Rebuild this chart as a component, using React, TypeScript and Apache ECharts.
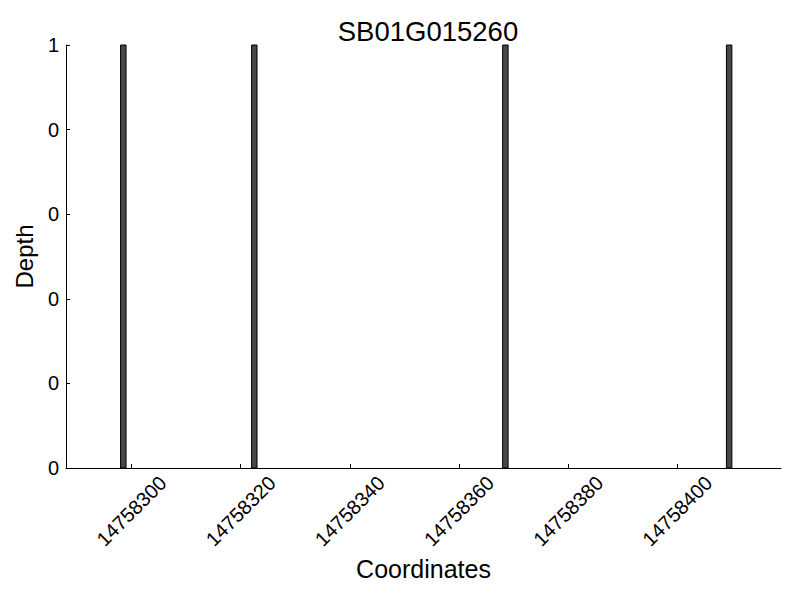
import React, { useEffect, useRef } from "react";
import * as echarts from "echarts";

const titleText = "SB01G015260";
const xName = "Coordinates";
const yName = "Depth";
const positions = [14758298, 14758322, 14758368, 14758409];
const depths = [1, 1, 1, 1];
const xTicks = [14758300, 14758320, 14758340, 14758360, 14758380, 14758400];
const xMin = 14758288;
const xMax = 14758419;
const barSpan = 1;

const FONT = "Liberation Sans, Arial, sans-serif";

export default function App() {
  const ref = useRef<HTMLDivElement>(null);
  useEffect(() => {
    if (!ref.current) return;
    const chart = echarts.init(ref.current, null, { renderer: "svg" });
    const data = positions.map((p, i) => [p, depths[i]]);
    chart.setOption({
      animation: false,
      backgroundColor: "#ffffff",
      textStyle: { fontFamily: FONT },
      title: {
        text: titleText,
        left: 423,
        textAlign: "center",
        top: 12,
        textStyle: { fontSize: 27.5, fontWeight: "normal", color: "#000", fontFamily: FONT },
      },
      grid: { left: 66, right: 19, top: 45, bottom: 132, containLabel: false },
      xAxis: {
        type: "value",
        min: xMin,
        max: xMax,
        name: xName,
        nameLocation: "middle",
        nameGap: 86,
        nameTextStyle: { fontSize: 25, color: "#000", fontFamily: FONT },
        splitLine: { show: false },
        axisLine: { show: true, onZero: false, lineStyle: { color: "#000", width: 1 } },
        axisTick: { show: true, inside: true, length: 4, customValues: xTicks, lineStyle: { color: "#000" } },
        axisLabel: {
          customValues: xTicks,
          rotate: 45,
          align: "center",
          verticalAlign: "middle",
          fontSize: 20,
          color: "#000",
          margin: 43,
          fontFamily: FONT,
          formatter: (v: number) => String(Math.round(v)),
        },
      },
      yAxis: {
        type: "value",
        min: 0,
        max: 1,
        interval: 0.2,
        name: yName,
        nameLocation: "middle",
        nameGap: 30,
        nameTextStyle: { fontSize: 24, color: "#000", fontFamily: FONT },
        splitLine: { show: false },
        axisLine: { show: true, lineStyle: { color: "#000", width: 1 } },
        axisTick: { show: true, inside: true, length: 4, lineStyle: { color: "#000" } },
        axisLabel: {
          fontSize: 20,
          color: "#000",
          margin: 7,
          fontFamily: FONT,
          formatter: (v: number) => String(Math.floor(v + 1e-9)),
        },
      },
      series: [
        {
          type: "custom",
          data,
          renderItem: (params: any, api: any) => {
            const x0 = api.value(0);
            const y = api.value(1);
            const p0 = api.coord([x0, y]);
            const p1 = api.coord([x0 + barSpan, 0]);
            return {
              type: "rect",
              shape: { x: p0[0], y: p0[1], width: p1[0] - p0[0], height: p1[1] - p0[1] },
              style: { fill: "#474747", stroke: "#000", lineWidth: 1 },
            };
          },
        },
      ],
    });
    return () => chart.dispose();
  }, []);
  return <div ref={ref} style={{ width: 800, height: 600, margin: -8 }} />;
}
